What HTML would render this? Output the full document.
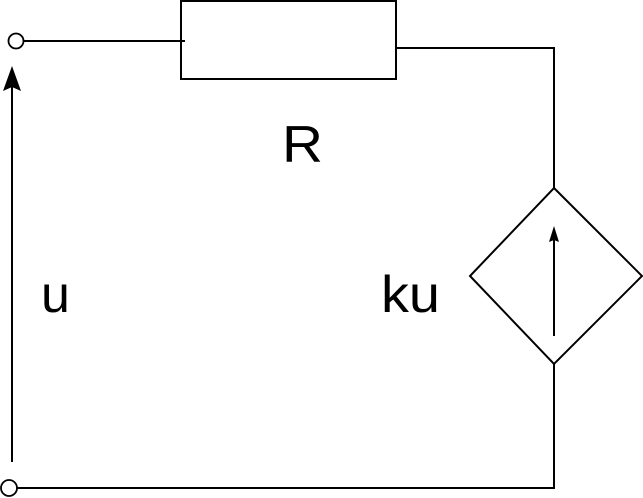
<!DOCTYPE html>
<html><head><style>body{margin:0;background:#fff}svg{display:block}</style></head><body>
<svg width="643" height="498" viewBox="0 0 643 498" xmlns="http://www.w3.org/2000/svg" font-family="Liberation Sans, sans-serif">
<g stroke="#000" stroke-width="2" fill="none">
<circle cx="16" cy="41" r="7.5" stroke-width="1.8"/>
<circle cx="9" cy="488" r="8" stroke-width="1.8"/>
<line x1="24" y1="41" x2="185" y2="41"/>
<rect x="181" y="1" width="215" height="78" stroke-width="2"/>
<polyline points="396,48 554,48 554,188" stroke-width="2"/>
<polygon points="554,188 642,276 554,364 470,276" stroke-width="2"/>
<polyline points="554,364 554,488 17,488"/>
<line x1="12" y1="462" x2="12" y2="85"/>
<line x1="554" y1="336" x2="554" y2="240"/>
</g>
<polygon points="12,66 3,91 12,87 21,91" fill="#000"/>
<polygon points="554,226 549,242 554,240 559,242" fill="#000"/>
<g font-size="52" fill="#000">
<text x="282" y="162" textLength="41" lengthAdjust="spacingAndGlyphs">R</text>
<text x="41" y="312">u</text>
<text x="381" y="312" textLength="59" lengthAdjust="spacingAndGlyphs">ku</text>
</g>
</svg>
</body></html>
